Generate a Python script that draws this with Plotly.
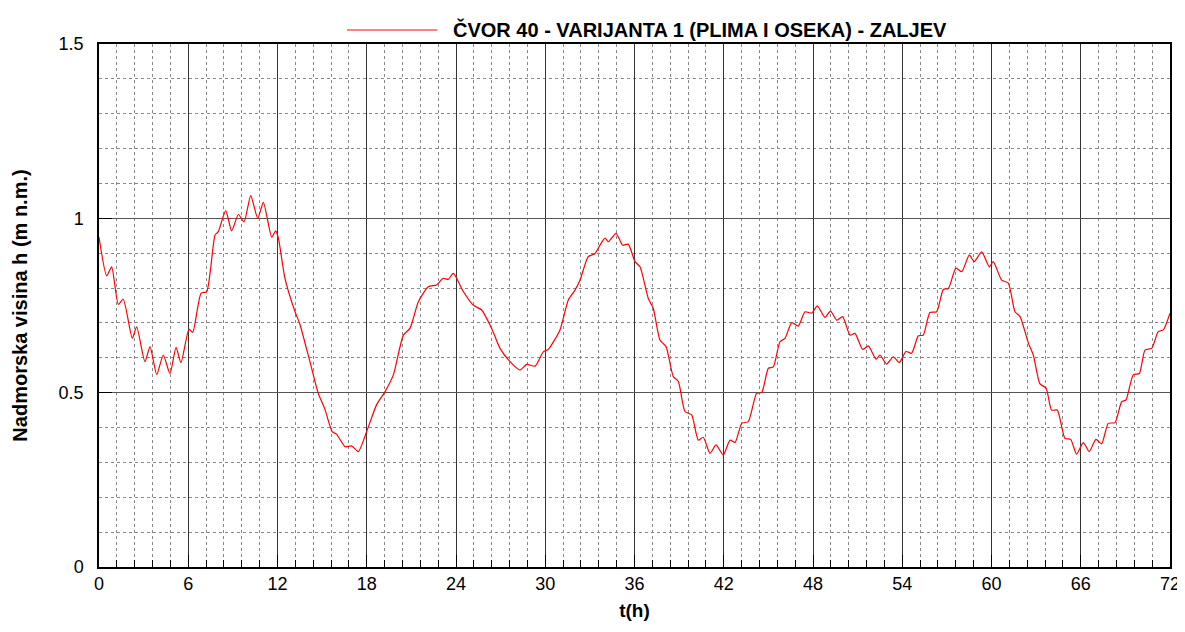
import plotly.graph_objects as go

t_hours = [0, 0.52, 0.85, 1.3, 1.63, 2.24, 2.53, 3.09, 3.43, 3.88, 4.32, 4.77, 5.18, 5.51, 6.05, 6.3,
           6.86, 7.24, 7.8, 8.02, 8.52, 8.92, 9.37, 9.75, 10.2, 10.67, 11.05, 11.61, 11.88, 12.06, 12.5,
           13.18, 13.5, 14.18, 14.74, 15.19, 15.68, 15.97, 16.54, 16.99, 17.43, 17.99, 18.66, 19.23,
           19.79, 20.46, 20.91, 21.47, 22.14, 22.7, 23.14, 23.48, 23.82, 24.49, 25.16, 25.72, 26.39,
           26.96, 27.63, 28.3, 28.75, 29.31, 29.87, 30.2, 30.99, 31.55, 32.0, 32.34, 32.89, 33.34,
           33.68, 34.02, 34.24, 34.76, 35.2, 35.58, 36.03, 36.37, 36.93, 37.26, 37.71, 38.12, 38.61,
           38.95, 39.39, 39.84, 40.29, 40.62, 41.08, 41.48, 41.97, 42.42, 42.76, 43.21, 43.65, 44.21,
           44.55, 45.0, 45.33, 45.78, 46.12, 46.57, 47.01, 47.46, 47.91, 48.29, 48.8, 49.18, 49.59,
           49.99, 50.49, 50.82, 51.34, 51.72, 52.24, 52.5, 52.95, 53.4, 53.8, 54.25, 54.63, 55.08,
           55.41, 55.86, 56.31, 56.76, 57.1, 57.61, 58.0, 58.51, 58.84, 59.34, 59.85, 60.12, 60.68,
           61.13, 61.58, 61.92, 62.48, 62.81, 63.26, 63.67, 64.04, 64.42, 64.94, 65.32, 65.72, 66.17,
           66.57, 67.02, 67.4, 67.85, 68.3, 68.75, 69.04, 69.53, 69.94, 70.32, 70.77, 71.21, 71.55, 72.0]

water_level = [0.946, 0.835, 0.861, 0.753, 0.768, 0.656, 0.689, 0.589, 0.632, 0.552, 0.608, 0.555, 0.630,
               0.586, 0.682, 0.673, 0.785, 0.790, 0.952, 0.962, 1.022, 0.964, 1.011, 0.990, 1.065, 1.000,
               1.046, 0.946, 0.964, 0.943, 0.828, 0.732, 0.697, 0.589, 0.498, 0.452, 0.388, 0.381, 0.345,
               0.347, 0.331, 0.388, 0.465, 0.503, 0.551, 0.665, 0.685, 0.761, 0.804, 0.809, 0.828, 0.825,
               0.842, 0.790, 0.751, 0.737, 0.685, 0.627, 0.589, 0.565, 0.581, 0.576, 0.617, 0.624, 0.680,
               0.766, 0.794, 0.823, 0.890, 0.899, 0.923, 0.943, 0.933, 0.957, 0.923, 0.926, 0.876, 0.861,
               0.770, 0.742, 0.651, 0.632, 0.546, 0.532, 0.446, 0.436, 0.364, 0.372, 0.326, 0.350, 0.321,
               0.364, 0.357, 0.412, 0.417, 0.498, 0.500, 0.570, 0.574, 0.646, 0.656, 0.701, 0.691, 0.732,
               0.728, 0.749, 0.716, 0.734, 0.708, 0.718, 0.665, 0.670, 0.624, 0.634, 0.596, 0.608, 0.582,
               0.603, 0.586, 0.618, 0.613, 0.663, 0.665, 0.730, 0.732, 0.796, 0.799, 0.857, 0.847, 0.895,
               0.876, 0.904, 0.861, 0.876, 0.823, 0.814, 0.732, 0.718, 0.642, 0.608, 0.525, 0.513, 0.450,
               0.450, 0.369, 0.366, 0.324, 0.357, 0.331, 0.366, 0.353, 0.412, 0.414, 0.474, 0.479, 0.551,
               0.555, 0.622, 0.627, 0.675, 0.680, 0.728]

series_name = "ČVOR 40 - VARIJANTA 1 (PLIMA I OSEKA) - ZALJEV"
x_title = "t(h)"
y_title = "Nadmorska visina h (m n.m.)"

FONT = "Liberation Sans, Arial, sans-serif"

fig = go.Figure()
fig.add_trace(go.Scatter(x=t_hours, y=water_level, mode="lines", name=series_name,
                         line=dict(color="#ff0000", width=1.2, shape="spline", smoothing=0.6),
                         showlegend=False))

# legend drawn manually (long line sample like the original)
fig.add_shape(type="line", xref="paper", yref="paper", x0=(347 - 99) / 1071, x1=(437 - 99) / 1071,
              y0=1 + 14 / 523, y1=1 + 14 / 523, line=dict(color="#ff0000", width=1.2))
fig.add_annotation(text="<b>" + series_name + "</b>", xref="paper", yref="paper",
                   x=(451 - 99) / 1071, y=1 + 15 / 523, xanchor="left", yanchor="middle",
                   showarrow=False, font=dict(family=FONT, size=20, color="#000"))

# page body has an 8px margin, so the figure is 8px smaller than the window and margins shifted
fig.update_layout(
    width=1177, height=624,
    margin=dict(l=91, r=15, t=36, b=65),
    paper_bgcolor="white", plot_bgcolor="white",
    font=dict(family=FONT, size=18, color="#000"),
)

fig.update_xaxes(
    range=[0, 72], dtick=6, tick0=0, automargin=False,
    showgrid=True, gridcolor="#333", gridwidth=1,
    showline=True, linecolor="#000", linewidth=1.5, mirror=True,
    ticks="inside", ticklen=12, tickcolor="#000", tickwidth=1,
    zeroline=False,
    minor=dict(dtick=1.2, tick0=0, showgrid=True, gridcolor="#888", griddash="dot", gridwidth=1,
               ticks="inside", ticklen=7, tickcolor="#000"),
    tickfont=dict(size=18),
    title=dict(text="<b>" + x_title + "</b>", font=dict(size=19), standoff=10),
)
fig.update_yaxes(
    range=[0, 1.5], dtick=0.5, tick0=0, automargin=False,
    showgrid=True, gridcolor="#555", gridwidth=1,
    showline=True, linecolor="#000", linewidth=1.5, mirror=True,
    ticks="inside", ticklen=13, tickcolor="#000", tickwidth=1,
    zeroline=False,
    minor=dict(dtick=0.1, tick0=0, showgrid=True, gridcolor="#888", griddash="dot", gridwidth=1),
    tickfont=dict(size=18),
    ticklabelstandoff=10,
    title=dict(text="<b>" + y_title + "</b>", font=dict(size=20), standoff=26),
)

fig.write_html("out.html")
